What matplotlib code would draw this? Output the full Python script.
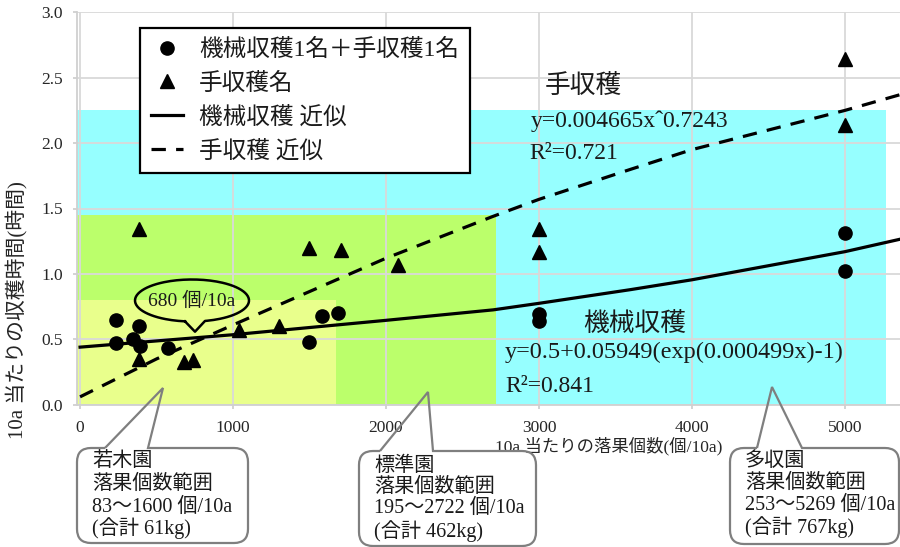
import numpy as np
import matplotlib.pyplot as plt
from matplotlib.path import Path
from matplotlib.patches import PathPatch
from matplotlib.lines import Line2D

plt.rcParams['font.family'] = ['Liberation Serif', 'Noto Sans CJK JP']

W, H = 900, 547

mech_x = [235, 235, 344, 388, 392, 577, 1499, 1580, 1688, 3000, 3000, 5000, 5000]
mech_y = [0.65, 0.47, 0.50, 0.60, 0.45, 0.43, 0.48, 0.68, 0.70, 0.69, 0.64, 1.31, 1.02]
hand_x = [388, 388, 682, 736, 1039, 1303, 1499, 1704, 2076, 3000, 3000, 5000, 5000]
hand_y = [1.34, 0.35, 0.33, 0.34, 0.57, 0.60, 1.20, 1.18, 1.07, 1.34, 1.17, 2.64, 2.14]

# fitted curves as drawn on the chart
mech_fit_x = [0, 1000, 2000, 2700, 3000, 3600, 4000, 5000, 5360]
mech_fit_y = [0.44, 0.535, 0.645, 0.725, 0.775, 0.88, 0.955, 1.17, 1.265]
hand_fit_x = [0, 500, 1000, 2000, 2700, 3000, 3600, 4000, 5000, 5360]
hand_fit_y = [0.06, 0.35, 0.61, 1.12, 1.44, 1.57, 1.80, 1.95, 2.25, 2.37]

# orchard zones: x range upper end, y upper end
zone_xmax = [5269, 2722, 1670]
zone_ymax = [2.25, 1.45, 0.80]
zone_colors = ['#96ffff', '#bbff6b', '#e9ff8c']

x_ticks = [0, 1000, 2000, 3000, 4000, 5000]
y_ticks = [0.0, 0.5, 1.0, 1.5, 2.0, 2.5, 3.0]

boxes = [
    ['若木園', '落果個数範囲', '83～1600 個/10a', '(合計 61kg)'],
    ['標準園', '落果個数範囲', '195～2722 個/10a', '(合計 462kg)'],
    ['多収園', '落果個数範囲', '253～5269 個/10a', '(合計 767kg)'],
]


def fxy(px, py):
    # pixel position (from top-left) -> figure fraction
    return px / W, 1 - py / H


fig = plt.figure(figsize=(9, 5.47), dpi=100)
ax = fig.add_axes([77 / W, 1 - 404.7 / H, 823 / W, 392.4 / H])

for xm, ym, c in zip(zone_xmax, zone_ymax, zone_colors):
    ax.fill_between([-20, xm], 0, ym, color=c, lw=0, zorder=0.2)

l_mech, = ax.plot(mech_fit_x, mech_fit_y, color='k', lw=2.3, zorder=3)
l_hand, = ax.plot(hand_fit_x, hand_fit_y, color='k', lw=2.3, dashes=(4.5, 3.2), zorder=3)
p_mech, = ax.plot(mech_x, mech_y, 'o', color='k', ms=9.5, zorder=4)
p_hand, = ax.plot(hand_x, hand_y, '^', color='k', ms=9.5, zorder=4)

ax.set_xlim(-20, 5360)
ax.set_ylim(0, 3.0)
ax.set_xticks(x_ticks)
ax.set_yticks(y_ticks)
ax.set_yticklabels([f'{v:.1f}' for v in y_ticks])
ax.tick_params(axis='both', color='#cccccc', labelcolor='#262626', labelsize=12.5,
               length=3, width=1.2)
ax.tick_params(axis='y', pad=7)
ax.tick_params(axis='x', pad=8)
ax.grid(True, color='#d9d9d9', lw=1.3)
ax.set_axisbelow(True)
for s in ['top', 'right']:
    ax.spines[s].set_visible(False)
for s in ['left', 'bottom']:
    ax.spines[s].set_color('#d0d0d0')
    ax.spines[s].set_linewidth(1.3)

leg = ax.legend([p_mech, p_hand, l_mech, l_hand],
                ['機械収穫1名＋手収穫1名', '手収穫名', '機械収穫 近似', '手収穫 近似'],
                loc='upper left', bbox_to_anchor=((140 - 77) / 823, (404.7 - 28.3) / 392.4),
                borderaxespad=0, fontsize=17, frameon=True, fancybox=False,
                edgecolor='k', framealpha=1, handlelength=1.35, handletextpad=0.7,
                labelspacing=0.49, borderpad=0.45)
leg.get_frame().set_linewidth(1.6)
for t in leg.get_texts():
    t.set_color('#1a1a1a')

# fit labels
fig.text(*fxy(545, 86), '手収穫', fontsize=18.5, va='center', color='#1a1a1a')
fig.text(*fxy(531, 121), 'y=0.004665xˆ0.7243', fontsize=17, va='center', color='#1a1a1a')
fig.text(*fxy(529, 153), 'R²=0.721', fontsize=17, va='center', color='#1a1a1a')
fig.text(*fxy(583, 324), '機械収穫', fontsize=18.5, va='center', color='#1a1a1a')
fig.text(*fxy(505, 352), 'y=0.5+0.05949(exp(0.000499x)-1)', fontsize=17.5, va='center',
         color='#1a1a1a')
fig.text(*fxy(505, 387), 'R²=0.841', fontsize=17, va='center', color='#1a1a1a')

# axis titles
fig.text(*fxy(609, 446), '10a 当たりの落果個数(個/10a)', fontsize=12.5, ha='center',
         va='center', color='#262626')
fig.text(*fxy(17, 310), '10a 当たりの収穫時間(時間)', fontsize=15, ha='center',
         va='center', rotation=90, color='#262626')

# "680 個/10a" speech bubble
th = np.linspace(np.deg2rad(97.1), np.deg2rad(436.8), 150)
bx = list(192 + 57 * np.cos(th)) + [195, 192 + 57 * np.cos(th[0])]
by = list(300.5 + 21 * np.sin(th)) + [331.7, 300.5 + 21 * np.sin(th[0])]
fx, fy = zip(*[fxy(a, b) for a, b in zip(bx, by)])
fig.add_artist(Line2D(fx, fy, color='k', lw=1.8, transform=fig.transFigure, zorder=5))
fig.text(*fxy(192, 301), '680 個/10a', fontsize=14, ha='center', va='center',
         color='#1a1a1a', zorder=6)


def callout(x0, y0, x1, y1, bx0, bx1, tip, r=14):
    M, L, C = Path.MOVETO, Path.LINETO, Path.CURVE3
    pts = [(bx0, y0), tip, (bx1, y0), (x1 - r, y0), (x1, y0), (x1, y0 + r),
           (x1, y1 - r), (x1, y1), (x1 - r, y1), (x0 + r, y1), (x0, y1), (x0, y1 - r),
           (x0, y0 + r), (x0, y0), (x0 + r, y0), (bx0, y0)]
    codes = [M, L, L, L, C, C, L, C, C, L, C, C, L, C, C, L]
    verts = [fxy(*p) for p in pts]
    fig.add_artist(PathPatch(Path(verts, codes), fc='none', ec='#7f7f7f', lw=1.6,
                             transform=fig.transFigure, zorder=5))


box_geo = [
    (77, 448, 248, 543, 105, 148, (163, 388)),
    (359, 451, 536, 546, 380, 433, (428, 392)),
    (730, 448, 899, 544, 757, 802, (772, 387)),
]
line_y = [[462, 484, 507, 528], [466, 487, 508, 531], [461, 483, 505, 527]]

for geo, lines, ys in zip(box_geo, boxes, line_y):
    callout(*geo)
    for txt, yy in zip(lines, ys):
        fig.text(*fxy(geo[0] + 15, yy), txt, fontsize=14.5, va='center', color='#1a1a1a')

fig.savefig('out.png', dpi=100)
